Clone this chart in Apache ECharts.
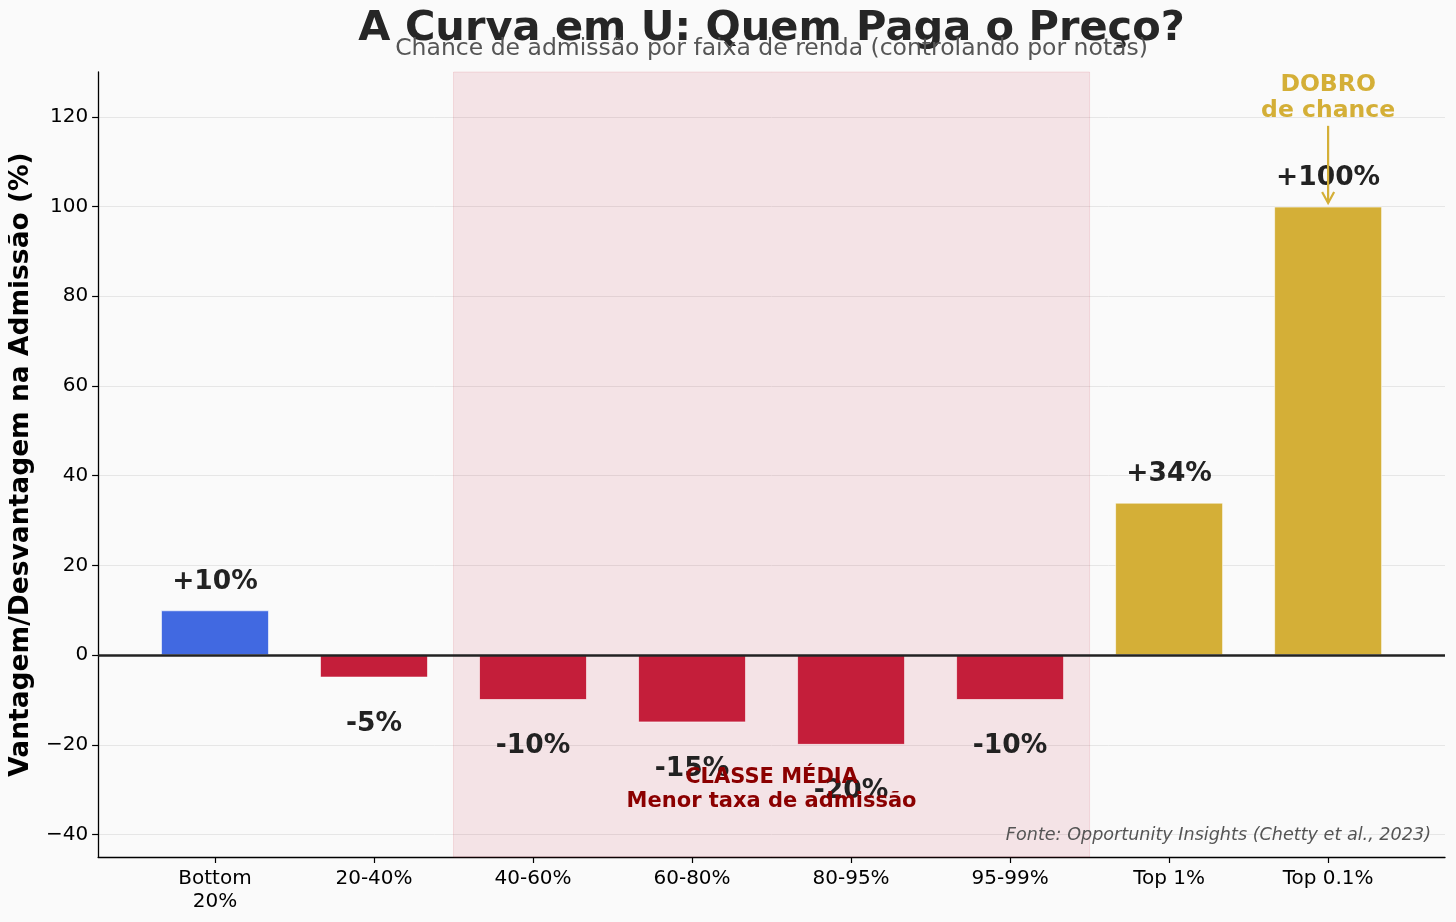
<!DOCTYPE html>
<html>
<head>
<meta charset="utf-8">
<script src="https://cdn.jsdelivr.net/npm/echarts@6/dist/echarts.min.js"></script>
<style>
  html, body { margin: 0; padding: 0; background: #fafafa; }
  #chart { width: 1456px; height: 922px; }
</style>
</head>
<body>
<div id="chart"></div>
<script>
// ── Data ─────────────────────────────────────────
const categories = ['Bottom\n20%', '20-40%', '40-60%', '60-80%', '80-95%', '95-99%', 'Top 1%', 'Top 0.1%'];
const values     = [10, -5, -10, -15, -20, -10, 34, 100];
const yTicks     = [-40, -20, 0, 20, 40, 60, 80, 100, 120];
const xTicks     = [0, 1, 2, 3, 4, 5, 6, 7];
const middleBand = [1.5, 5.5];   // shaded "classe média" range, in category units

// ── Style ────────────────────────────────────────
const FONT  = 'DejaVu Sans';
const BLUE  = '#4169E1';
const RED   = '#C41E3A';
const GOLD  = '#D4AF37';

function barColor(v, i) {
  if (i === 0) return BLUE;
  return v < 0 ? RED : GOLD;
}

function fmtPct(v) {
  return (v > 0 ? '+' : '') + v + '%';
}

const chart = echarts.init(document.getElementById('chart'), null, { renderer: 'canvas' });

const barData = values.map(function (v, i) {
  return {
    value: [i, v],
    itemStyle: { color: barColor(v, i) },
    label: {
      position: v >= 0 ? 'top' : 'bottom',
      distance: v >= 0 ? 15 : 33
    }
  };
});

const option = {
  backgroundColor: '#fafafa',
  animation: false,
  grid: { left: 97, right: 11, top: 72, bottom: 65, containLabel: false },
  xAxis: {
    type: 'value',
    min: -0.735,
    max: 7.735,
    axisLine: { show: true, onZero: false, lineStyle: { color: '#000', width: 1.3 } },
    axisTick: { show: true, customValues: xTicks, length: 6, lineStyle: { color: '#000', width: 1.2 } },
    axisLabel: {
      customValues: xTicks,
      formatter: function (v) { return categories[Math.round(v)] || ''; },
      color: '#000', fontFamily: FONT, fontSize: 20, lineHeight: 23, margin: 10
    },
    splitLine: { show: false }
  },
  yAxis: {
    type: 'value',
    min: -45,
    max: 130,
    name: 'Vantagem/Desvantagem na Admissão (%)',
    nameLocation: 'middle',
    nameRotate: 90,
    nameGap: 45,
    nameTextStyle: { fontFamily: FONT, fontSize: 26.5, fontWeight: 'bold', color: '#000' },
    axisLine: { show: true, onZero: false, lineStyle: { color: '#000', width: 1.3 } },
    axisTick: { show: true, customValues: yTicks, length: 6, lineStyle: { color: '#000', width: 1.2 } },
    axisLabel: {
      customValues: yTicks,
      formatter: function (v) { return String(v).replace('-', '\u2212'); },
      color: '#000', fontFamily: FONT, fontSize: 20, margin: 10
    },
    splitLine: { show: true, lineStyle: { color: '#e6e6e6', width: 1 } }
  },
  series: [
    {
      type: 'bar',
      data: barData,
      barWidth: 108,
      itemStyle: { borderColor: 'rgba(255,255,255,0.6)', borderWidth: 1 },
      label: {
        show: true,
        formatter: function (p) { return fmtPct(p.value[1]); },
        fontFamily: FONT, fontSize: 26.5, fontWeight: 'bold', color: '#222'
      },
      z: 3,
      markArea: {
        silent: true,
        itemStyle: { color: 'rgba(196,30,58,0.1)', borderColor: 'rgba(196,30,58,0.12)', borderWidth: 1 },
        data: [[{ xAxis: middleBand[0] }, { xAxis: middleBand[1] }]]
      },
      markLine: {
        silent: true,
        symbol: ['none', 'none'],
        label: { show: false },
        lineStyle: { color: '#222', width: 2.5, type: 'solid' },
        data: [{ yAxis: 0 }]
      }
    }
  ]
};

chart.setOption(option);

// ── Annotations (placed through the grid's own scales) ──
function px(x, y) { return chart.convertToPixel({ gridIndex: 0 }, [x, y]); }

const midX      = (middleBand[0] + middleBand[1]) / 2;
const classePos = px(midX, -30);
const topIdx    = values.length - 1;
const arrowFrom = px(topIdx, 118);
const arrowTo   = px(topIdx, values[topIdx] + 0.8);
const plotL     = px(-0.735, 0)[0];
const plotR     = px(7.735, 0)[0];
const plotMid   = (plotL + plotR) / 2;
const fontePos  = px(7.735, -40);

chart.setOption({
  graphic: [
    {
      type: 'text', z: 10,
      style: {
        text: 'A Curva em U: Quem Paga o Preço?',
        x: plotMid, y: 29, align: 'center', verticalAlign: 'middle',
        textAlign: 'center', textVerticalAlign: 'middle',
        font: 'bold 41.5px "DejaVu Sans"', fill: '#262626'
      }
    },
    {
      type: 'text', z: 11,
      style: {
        text: 'Chance de admissão por faixa de renda (controlando por notas)',
        x: plotMid, y: 49, align: 'center', verticalAlign: 'middle',
        textAlign: 'center', textVerticalAlign: 'middle',
        font: '23.5px "DejaVu Sans"', fill: '#555'
      }
    },
    {
      type: 'text', z: 10,
      style: {
        text: 'CLASSE MÉDIA\nMenor taxa de admissão',
        x: classePos[0], y: classePos[1], align: 'center', verticalAlign: 'middle',
        textAlign: 'center', textVerticalAlign: 'middle',
        font: 'bold 21px "DejaVu Sans"', fill: '#8B0000', lineHeight: 24
      }
    },
    {
      type: 'text', z: 10,
      style: {
        text: 'DOBRO\nde chance',
        x: arrowFrom[0], y: arrowFrom[1] - 2, align: 'center', verticalAlign: 'bottom',
        textAlign: 'center', textVerticalAlign: 'bottom',
        font: 'bold 23.5px "DejaVu Sans"', fill: GOLD, lineHeight: 26
      }
    },
    {
      type: 'line', z: 10,
      shape: { x1: arrowFrom[0], y1: arrowFrom[1], x2: arrowTo[0], y2: arrowTo[1] },
      style: { stroke: GOLD, lineWidth: 2.2 }
    },
    {
      type: 'polyline', z: 10,
      shape: { points: [[arrowTo[0] - 6, arrowTo[1] - 11], [arrowTo[0], arrowTo[1]], [arrowTo[0] + 6, arrowTo[1] - 11]] },
      style: { stroke: GOLD, lineWidth: 2.2, fill: null }
    },
    {
      type: 'text', z: 10,
      style: {
        text: 'Fonte: Opportunity Insights (Chetty et al., 2023)',
        x: fontePos[0] - 14, y: fontePos[1] + 1, align: 'right', verticalAlign: 'middle',
        textAlign: 'right', textVerticalAlign: 'middle',
        font: 'italic 17.6px "DejaVu Sans"', fill: '#555'
      }
    }
  ]
});

window.addEventListener('resize', function () { chart.resize(); });
</script>
</body>
</html>
